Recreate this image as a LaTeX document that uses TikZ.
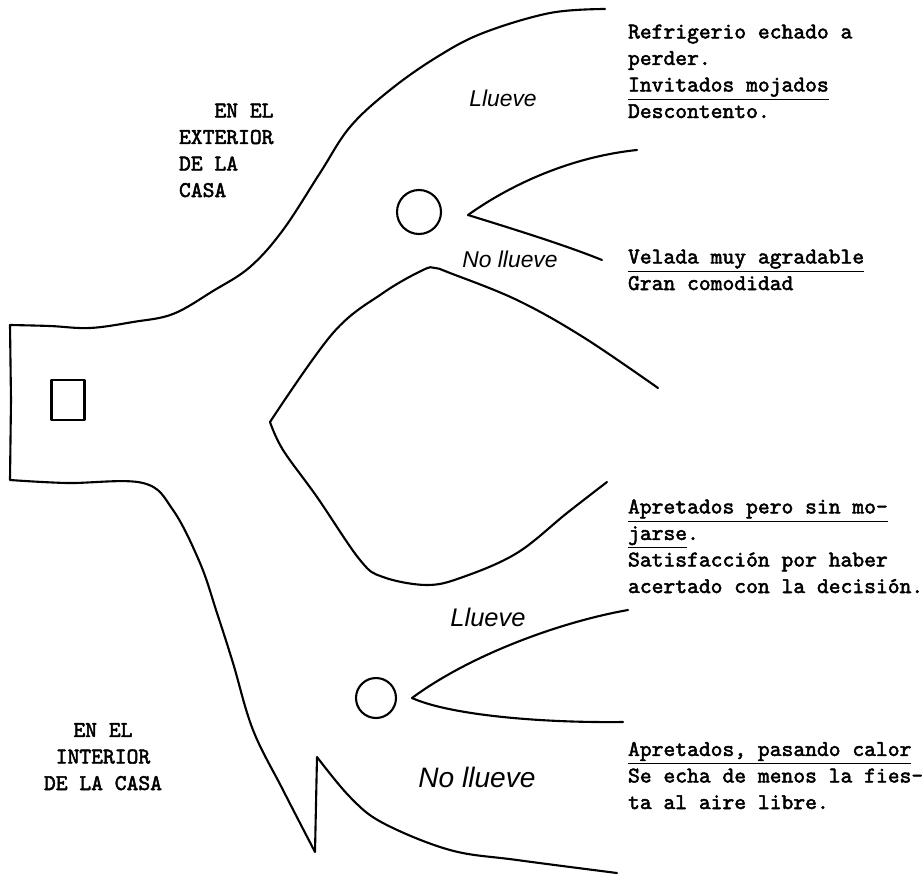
\documentclass[tikz,border=0pt]{standalone}
\usepackage{fontspec}
\newfontfamily\typew{lmmono10-regular.otf}[FakeBold=2.2]
\newfontfamily\handw{Liberation Sans}

\begin{document}
\begin{tikzpicture}[x=0.02cm,y=-0.02cm,line width=1.2pt,line join=round,line cap=round,
    note/.style={anchor=base west,align=left,inner sep=0pt,font=\typew\fontsize{12.8}{15.1}\selectfont},
    hand/.style={inner sep=0pt,font=\handw\itshape\fontsize{#1}{#1}\selectfont},
    hand/.default=13,
    chance/.style={circle,draw,inner sep=0pt}]
  \useasboundingbox (0,0) rectangle (922,875);
  \draw
    (68,400) node[draw,minimum width=0.66cm,minimum height=0.8cm] (dec){}
    (419,212) node[chance,minimum size=0.88cm] (upchance){}
    (376,698) node[chance,minimum size=0.8cm] (lowchance){};
  \coordinate (upfork) at (468,215);
  \coordinate (upwet) at (637,150);
  \coordinate (updry) at (602,260);
  \coordinate (lowfork) at (412,698);
  \coordinate (lowwet) at (628,610);
  \coordinate (lowdry) at (623,722);
  % outer contour
  \draw plot[smooth,tension=0.6] coordinates {(605,9) (550,13) (483,33) (437,57) (390,90) (350,127)
      (320,173) (283,230) (250,267) (213,291) (173,314) (133,322) (90,328) (50,326) (10,325)}
    -- (11,400) -- (10,480)
    -- plot[smooth,tension=0.6] coordinates {(10,480) (67,483) (143,483) (173,510) (200,563) (217,613)
      (233,663) (253,730) (283,790) (315,852)}
    -- plot[smooth,tension=0.6] coordinates {(317,757) (350,797) (383,823) (450,850) (517,860) (617,873)};
  % inner contour
  \draw plot[smooth,tension=0.6] coordinates {(658,388) (583,337) (517,300) (450,273) (435,268)
      (423,270) (383,293) (333,333) (270,422)}
    -- plot[smooth,tension=0.6] coordinates {(270,422) (283,450) (317,497) (360,560) (383,577)
      (427,585) (463,577) (517,553) (567,513) (607,482)};
  \begin{scope}
    \draw (upfork) .. controls (510,185) and (570,157) .. (upwet);
    \draw (upfork) .. controls (510,228) and (565,245) .. (updry);
    \draw (lowfork) .. controls (470,655) and (560,622) .. (lowwet);
    \draw (lowfork) .. controls (450,715) and (540,723) .. (lowdry);
  \end{scope}
  \node[hand] (upwetlbl) at (503,98) {Llueve};
  \node[hand] (updrylbl) at (510,259) {No llueve};
  \node[hand=14.5] (lowwetlbl) at (488,617) {Llueve};
  \node[hand=16] (lowdrylbl) at (477,777) {No llueve};
  % anchors sit on the last line
  \node[note] (outside) at (178,197) {\phantom{XXX}EN EL\\EXTERIOR\\DE LA\\CASA};
  \node[note,anchor=base,align=center] (inside) at (103,790) {EN EL\\INTERIOR\\DE LA CASA};
  \node[note] (upwettxt) at (627,118) {Refrigerio echado a\\perder.\\\underline{Invitados mojados}\\Descontento.};
  \node[note] (updrytxt) at (627,290) {\underline{Velada muy agradable}\\Gran comodidad};
  \node[note] (lowwettxt) at (627,593) {\underline{Apretados pero sin mo-}\\\underline{jarse}.\\Satisfacción por haber\\acertado con la decisión.};
  \node[note] (lowdrytxt) at (627,809) {\underline{Apretados, pasando calor}\\Se echa de menos la fies-\\ta al aire libre.};
\end{tikzpicture}
\end{document}
